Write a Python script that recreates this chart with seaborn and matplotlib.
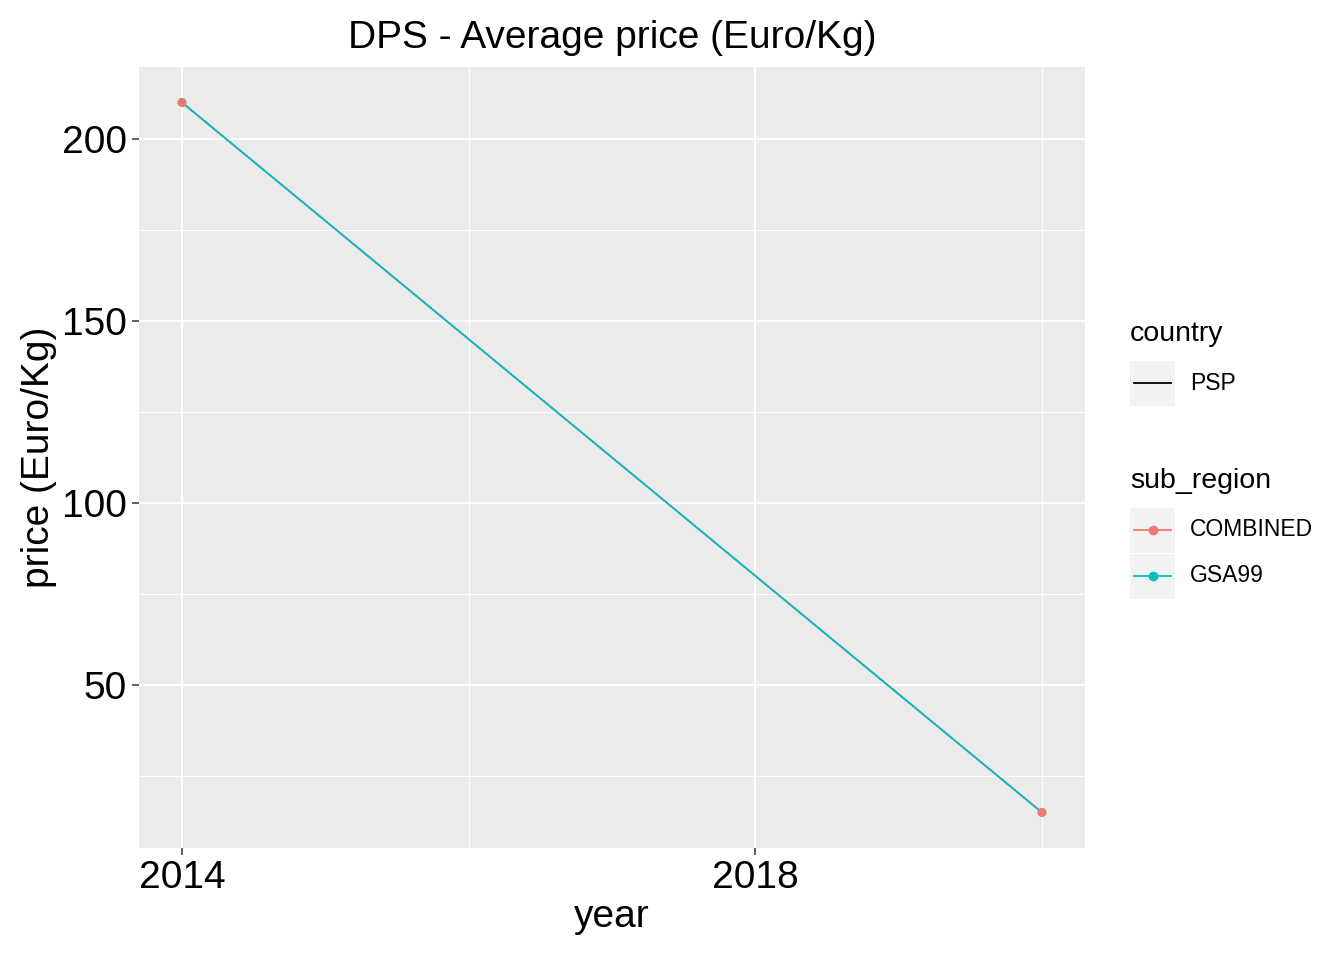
import matplotlib
matplotlib.use("Agg")
import matplotlib.pyplot as plt
import seaborn as sns
import pandas as pd
from matplotlib.lines import Line2D
from matplotlib.patches import Rectangle

years = [2014, 2020, 2014, 2020]
prices = [210, 15, 210, 15]
sub_region = ["GSA99", "GSA99", "COMBINED", "COMBINED"]
country = ["PSP"] * 4
colors = {"COMBINED": "#F8766D", "GSA99": "#00BFC4"}

df = pd.DataFrame({"year": years, "price": prices, "sub_region": sub_region, "country": country})

plt.rcParams['font.family'] = ['Liberation Sans', 'DejaVu Sans']
fig = plt.figure(figsize=(13.44, 9.6), dpi=100)
ax = fig.add_axes([139/1344, 1-848/960, (1085-139)/1344, (848-67)/960])
ax.set_facecolor("#EBEBEB")
for s in ax.spines.values():
    s.set_visible(False)

for g in ["COMBINED", "GSA99"]:
    d = df[df.sub_region == g]
    sns.lineplot(data=d, x="year", y="price", color=colors[g], lw=1.3, ax=ax, legend=False, zorder=3)
for g in ["GSA99", "COMBINED"]:
    d = df[df.sub_region == g]
    sns.scatterplot(data=d, x="year", y="price", color=colors[g], s=40, edgecolor="none", ax=ax, legend=False, zorder=4)

ax.set_xlim(2013.7, 2020.3)
ax.set_ylim(5.25, 219.75)
ax.set_xticks([2014, 2018])
ax.set_xticks([2016, 2020], minor=True)
ax.set_yticks([50, 100, 150, 200])
ax.set_yticks([25, 75, 125, 175], minor=True)
ax.grid(True, which="major", color="white", lw=1.4)
ax.grid(True, which="minor", color="white", lw=0.7)
ax.set_axisbelow(True)
ax.tick_params(which="major", length=5, color="#333333", labelsize=28, labelcolor="black", width=1.1)
ax.tick_params(which="minor", length=0)
ax.set_xlabel("year", fontsize=28, labelpad=2)
ax.set_ylabel("price (Euro/Kg)", fontsize=28, labelpad=4)
ax.set_title("DPS - Average price (Euro/Kg)", fontsize=28, pad=14)

def fx(x): return x/1344
def fy(y): return 1-y/960

fig.text(fx(1130), fy(334), "country", fontsize=20.5, va="center")
fig.text(fx(1130), fy(481), "sub_region", fontsize=20.5, va="center")
keys = [(383, "PSP", "black", False), (530, "COMBINED", colors["COMBINED"], True), (576, "GSA99", colors["GSA99"], True)]
for yc, lab, c, pt in keys:
    fig.patches.append(Rectangle((fx(1130), fy(yc+22.5)), 45/1344, 45/960, transform=fig.transFigure, facecolor="#F2F2F2", edgecolor="none"))
    fig.lines.append(Line2D([fx(1134), fx(1171)], [fy(yc), fy(yc)], transform=fig.transFigure, color=c, lw=1.3))
    if pt:
        fig.lines.append(Line2D([fx(1152.5)], [fy(yc)], transform=fig.transFigure, color=c, marker="o", markersize=6, lw=0))
    fig.text(fx(1190), fy(yc), lab, fontsize=16.5, va="center")

fig.savefig("out.png", dpi=100)
